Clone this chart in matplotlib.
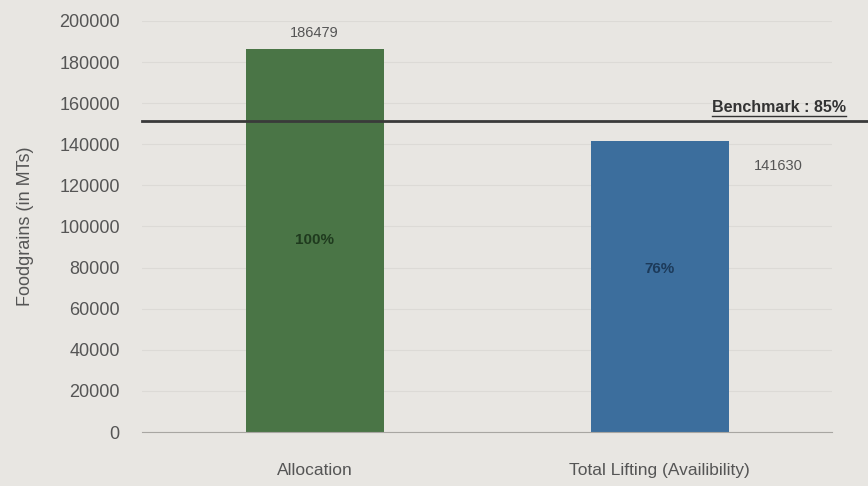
import matplotlib
matplotlib.use('Agg')
import matplotlib.pyplot as plt
from matplotlib.lines import Line2D

plt.rcParams['font.family'] = ['Liberation Sans Narrow', 'Liberation Sans', 'DejaVu Sans']

categories = ["Allocation", "Total Lifting (Availibility)"]
values = [186479, 141630]
percents = ["100%", "76%"]
colors = ["#4a7546", "#3c6e9d"]
benchmark_level = 151500
benchmark_label = "Benchmark : 85%"
y_ticks = list(range(0, 200001, 20000))

bg = "#e8e6e2"
text_col = "#555555"

fig = plt.figure(figsize=(8.68, 4.86), dpi=100, facecolor=bg)
ax = fig.add_axes([0.1636, 0.111, 0.795, 0.846], facecolor=bg)

x = list(range(len(categories)))
ax.bar(x, values, width=0.4, color=colors, zorder=2)

ax.set_xlim(-0.5, 1.5)
ax.set_ylim(0, 200000)
ax.set_yticks(y_ticks)
ax.set_yticklabels([str(t) for t in y_ticks], fontsize=13, color=text_col)
ax.set_xticks(x)
ax.set_xticklabels(categories, fontsize=12.5, color=text_col)
ax.tick_params(length=0, pad=16)
ax.tick_params(axis='x', pad=22)
ax.grid(axis='y', color='#dcdad6', linewidth=0.8, zorder=0)

for side in ['top', 'right', 'left']:
    ax.spines[side].set_visible(False)
ax.spines['bottom'].set_color('#a8a6a2')

ax.set_ylabel("Foodgrains (in MTs)", fontsize=13, color=text_col, labelpad=18)

# value labels
ax.text(x[0], values[0] + 4000, str(values[0]), ha='center', va='bottom',
        fontsize=10.5, color=text_col)
ax.annotate(str(values[1]), (x[1] + 0.2, values[1]), xytext=(36, -18),
            textcoords='offset points', ha='center', va='center',
            fontsize=10.5, color=text_col)

# percentages inside bars
ax.text(x[0], values[0] * 0.5, percents[0], ha='center', va='center',
        fontsize=11, fontweight='bold', color='#1f3a1e')
ax.text(x[1], values[1] * 0.56, percents[1], ha='center', va='center',
        fontsize=11, fontweight='bold', color='#1c3a5a')

# benchmark line
ax.axhline(benchmark_level, xmin=0, xmax=1.06, color='#3a3a3a', linewidth=2,
           clip_on=False, zorder=3)
t = ax.text(1.02, benchmark_level + 2800, benchmark_label, transform=ax.get_yaxis_transform(),
            ha='right', va='bottom', fontsize=11.5, fontweight='bold', color='#333333')

fig.canvas.draw()
bb = t.get_window_extent().transformed(fig.transFigure.inverted())
fig.add_artist(Line2D([bb.x0, bb.x1], [bb.y0 - 0.002, bb.y0 - 0.002],
                      transform=fig.transFigure, color='#333333', linewidth=1))

fig.savefig("out.png", dpi=100, facecolor=bg)
